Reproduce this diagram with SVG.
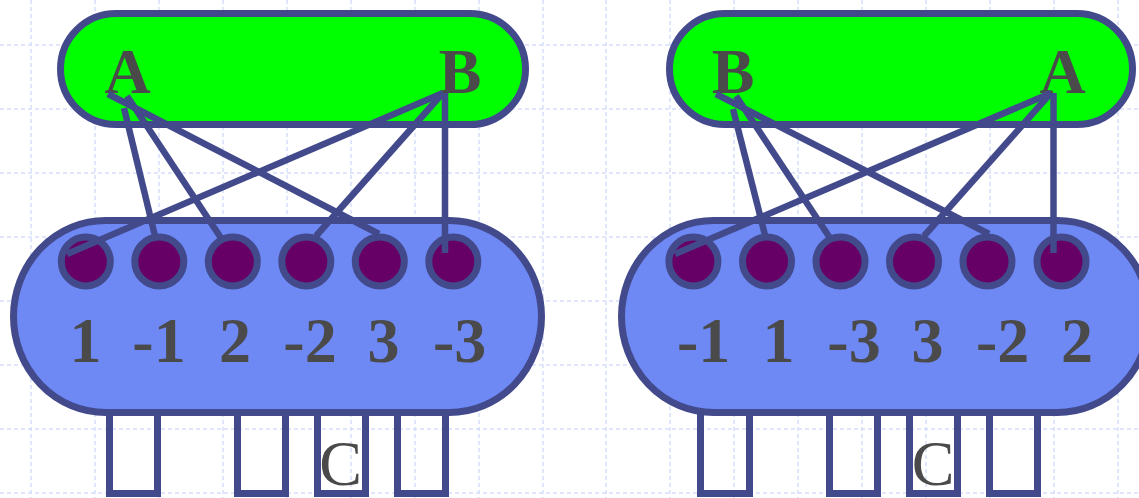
<svg xmlns="http://www.w3.org/2000/svg" width="1139" height="498" viewBox="0 0 1139 498">
  <style>
    .grid line { stroke: #d6defa; stroke-width: 1.5; stroke-dasharray: 4 3; }
    .outline { stroke: #424a8c; stroke-width: 7; }
    .top { fill: #00ff00; }
    .body { fill: #6e88f4; }
    .slot { fill: none; }
    .pin { fill: #660066; stroke: #424a8c; stroke-width: 7; }
    .lbl { font-family: "Liberation Serif", "Times New Roman", serif; font-weight: bold; font-size: 64px; fill: #4a4a4a; text-anchor: middle; }
    .cap { font-family: "Liberation Serif", "Times New Roman", serif; font-size: 64px; fill: #4a4a4a; text-anchor: middle; }
    #connectors line { stroke: #424a8c; stroke-width: 6.5; stroke-linecap: butt; }
  </style>

  <rect width="1139" height="498" fill="#ffffff"/>

  <!-- background grid -->
  <g class="grid">
    <line x1="31" y1="0" x2="31" y2="498"/>
    <line x1="95" y1="0" x2="95" y2="498"/>
    <line x1="159" y1="0" x2="159" y2="498"/>
    <line x1="223" y1="0" x2="223" y2="498"/>
    <line x1="287" y1="0" x2="287" y2="498"/>
    <line x1="351" y1="0" x2="351" y2="498"/>
    <line x1="415" y1="0" x2="415" y2="498"/>
    <line x1="479" y1="0" x2="479" y2="498"/>
    <line x1="543" y1="0" x2="543" y2="498"/>
    <line x1="606" y1="0" x2="606" y2="498"/>
    <line x1="670" y1="0" x2="670" y2="498"/>
    <line x1="734" y1="0" x2="734" y2="498"/>
    <line x1="798" y1="0" x2="798" y2="498"/>
    <line x1="862" y1="0" x2="862" y2="498"/>
    <line x1="926" y1="0" x2="926" y2="498"/>
    <line x1="990" y1="0" x2="990" y2="498"/>
    <line x1="1054" y1="0" x2="1054" y2="498"/>
    <line x1="1118" y1="0" x2="1118" y2="498"/>
    <line x1="0" y1="45" x2="1139" y2="45"/>
    <line x1="0" y1="109" x2="1139" y2="109"/>
    <line x1="0" y1="173" x2="1139" y2="173"/>
    <line x1="0" y1="237" x2="1139" y2="237"/>
    <line x1="0" y1="301" x2="1139" y2="301"/>
    <line x1="0" y1="365" x2="1139" y2="365"/>
    <line x1="0" y1="429" x2="1139" y2="429"/>
    <line x1="0" y1="493" x2="1139" y2="493"/>
  </g>

  <!-- left: slot comb C -->
  <g id="comb-left">
    <rect class="slot outline" x="109.5" y="395" width="48" height="98.5"/>
    <rect class="slot outline" x="237.5" y="395" width="48" height="98.5"/>
    <rect class="slot outline" x="317.5" y="395" width="48" height="98.5"/>
    <rect class="slot outline" x="397.5" y="395" width="48" height="98.5"/>
    <text class="cap" x="340.5" y="485">C</text>
  </g>

  <!-- left: body with pins -->
  <g id="body-left">
    <rect class="body outline" x="13.5" y="220.5" width="528" height="192" rx="92" ry="96"/>
    <circle id="pin-l1" class="pin" cx="85.8" cy="261.5" r="24.5"/>
    <circle id="pin-l2" class="pin" cx="159.3" cy="261.5" r="24.5"/>
    <circle id="pin-l3" class="pin" cx="232.8" cy="261.5" r="24.5"/>
    <circle id="pin-l4" class="pin" cx="306.3" cy="261.5" r="24.5"/>
    <circle id="pin-l5" class="pin" cx="379.8" cy="261.5" r="24.5"/>
    <circle id="pin-l6" class="pin" cx="453.3" cy="261.5" r="24.5"/>
    <text class="lbl" x="85.6" y="361.5">1</text>
    <text class="lbl" x="159" y="361.5">-1</text>
    <text class="lbl" x="235" y="361.5">2</text>
    <text class="lbl" x="310" y="361.5">-2</text>
    <text class="lbl" x="383.6" y="361.5">3</text>
    <text class="lbl" x="459.6" y="361.5">-3</text>
  </g>

  <!-- left: top bar A/B -->
  <g id="top-left">
    <rect class="top outline" x="60.5" y="13.5" width="465" height="111" rx="55.5" ry="55.5"/>
    <text class="lbl" x="127.5" y="92.5">A</text>
    <text class="lbl" x="460" y="92.5">B</text>
  </g>

  <!-- right: slot comb C -->
  <g id="comb-right">
    <rect class="slot outline" x="700.5" y="395" width="49" height="98.5"/>
    <rect class="slot outline" x="829.5" y="395" width="48" height="98.5"/>
    <rect class="slot outline" x="909.5" y="395" width="48" height="98.5"/>
    <rect class="slot outline" x="989.5" y="395" width="48" height="98.5"/>
    <text class="cap" x="933" y="485">C</text>
  </g>

  <!-- right: body with pins -->
  <g id="body-right">
    <rect class="body outline" x="621.5" y="220.5" width="528" height="192" rx="92" ry="96"/>
    <circle id="pin-r1" class="pin" cx="693.4" cy="261.5" r="24.5"/>
    <circle id="pin-r2" class="pin" cx="767" cy="261.5" r="24.5"/>
    <circle id="pin-r3" class="pin" cx="840.5" cy="261.5" r="24.5"/>
    <circle id="pin-r4" class="pin" cx="914" cy="261.5" r="24.5"/>
    <circle id="pin-r5" class="pin" cx="987.5" cy="261.5" r="24.5"/>
    <circle id="pin-r6" class="pin" cx="1061.5" cy="261.5" r="24.5"/>
    <text class="lbl" x="703.7" y="361.5">-1</text>
    <text class="lbl" x="778.6" y="361.5">1</text>
    <text class="lbl" x="854" y="361.5">-3</text>
    <text class="lbl" x="927.5" y="361.5">3</text>
    <text class="lbl" x="1002.7" y="361.5">-2</text>
    <text class="lbl" x="1077" y="361.5">2</text>
  </g>

  <!-- right: top bar B/A -->
  <g id="top-right">
    <rect class="top outline" x="669.5" y="13.5" width="463" height="111" rx="55.5" ry="55.5"/>
    <text class="lbl" x="733" y="92.5">B</text>
    <text class="lbl" x="1062.5" y="92.5">A</text>
  </g>

  <!-- wires from the top labels to the pins -->
  <g id="connectors">
    <line x1="443" y1="93" x2="67" y2="254"/>
    <line x1="124" y1="108" x2="155" y2="236"/>
    <line x1="127" y1="96" x2="221" y2="238"/>
    <line x1="108" y1="94" x2="379" y2="234"/>
    <line x1="442" y1="94" x2="316" y2="236"/>
    <line x1="445" y1="93" x2="445" y2="253"/>

    <line x1="1051" y1="93" x2="675" y2="254"/>
    <line x1="733" y1="109" x2="765" y2="235"/>
    <line x1="736" y1="96" x2="830" y2="238"/>
    <line x1="716" y1="94" x2="989" y2="234"/>
    <line x1="1050" y1="94" x2="924" y2="236"/>
    <line x1="1053.5" y1="93" x2="1053.5" y2="253"/>
  </g>
</svg>
